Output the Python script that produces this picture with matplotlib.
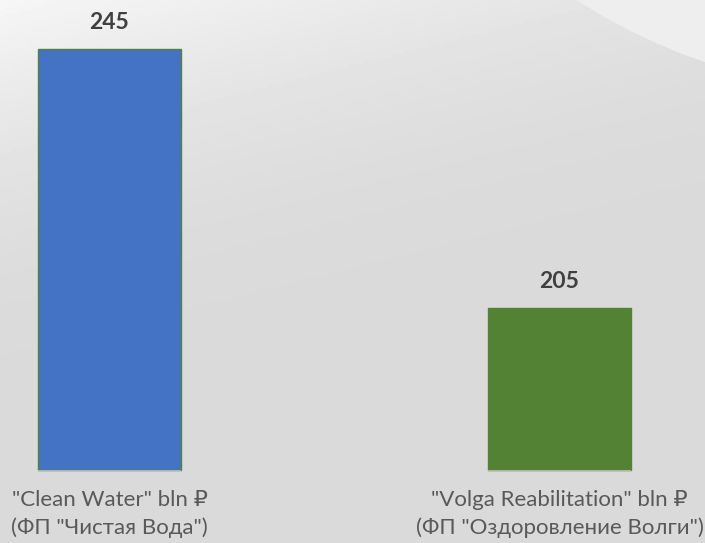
import numpy as np
import matplotlib.pyplot as plt
from matplotlib.patches import Circle

# data
categories = ['"Clean Water" bln \u20bd', '"Volga Reabilitation" bln \u20bd']
subtitles = ['(\u0424\u041f "\u0427\u0438\u0441\u0442\u0430\u044f \u0412\u043e\u0434\u0430")',
             '(\u0424\u041f "\u041e\u0437\u0434\u043e\u0440\u043e\u0432\u043b\u0435\u043d\u0438\u0435 \u0412\u043e\u043b\u0433\u0438")']
values = [245, 205]
colors = ['#4472c4', '#548235']
y_min = 180

W, H = 705, 543
fig = plt.figure(figsize=(W / 100, H / 100), dpi=100)

# background: soft grey gradient + lighter arc in the top right corner
bg = fig.add_axes([0, 0, 1, 1])
bg.set_xlim(0, W)
bg.set_ylim(H, 0)
bg.axis('off')
xx, yy = np.meshgrid(np.linspace(0, W, 200), np.linspace(0, H, 160))
t = np.clip((yy * 1.0 + xx * 0.25) / 380.0, 0, 1)
shade = 0.965 - 0.11 * (1 - (1 - t) ** 2)
bg.imshow(shade, cmap='gray', vmin=0, vmax=1, extent=(0, W, H, 0), aspect='auto', zorder=0)
bg.add_patch(Circle((896, -496), 590, facecolor='#eeeeee', edgecolor='none', zorder=1))

ax = fig.add_axes([0, 0, 1, 1])
ax.patch.set_alpha(0)
x = np.arange(len(values))
ax.set_xlim(-0.2433, 1.3233)
ax.set_ylim(168.7, 252.6)
ax.axis('off')

bars = ax.bar(x, np.array(values) - y_min, bottom=y_min, width=0.316,
              color=colors, edgecolor='#548235', linewidth=1)
for xi in x:
    ax.hlines(y_min - 0.15, xi - 0.158, xi + 0.158, color='#c0c0c0', linewidth=1.2)

fam = ['Lato', 'DejaVu Sans']
for xi, v, cat, sub in zip(x, values, categories, subtitles):
    ax.annotate(str(v), xy=(xi, v), xytext=(0, 27), textcoords='offset pixels',
                ha='center', va='center', fontsize=16.5, fontweight='bold',
                color='#404040', family=fam)
    ax.annotate(cat, xy=(xi, y_min), xytext=(0, -30), textcoords='offset pixels',
                ha='center', va='center', fontsize=16, color='#595959', family=fam)
    ax.annotate(sub, xy=(xi, y_min), xytext=(0, -58), textcoords='offset pixels',
                ha='center', va='center', fontsize=16, color='#595959', family=fam)

fig.savefig('out.png', dpi=100)
